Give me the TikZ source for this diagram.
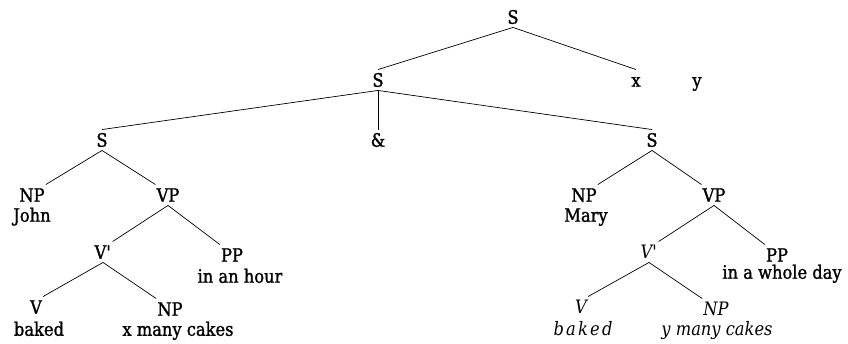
\documentclass[tikz,border=0pt]{standalone}
\usepackage{fontspec}
\setmainfont{DejaVu Serif}[FakeStretch=0.88, FakeBold=1.3]
\newfontfamily\slimfont{DejaVu Serif}[FakeStretch=0.88]
\usepackage{tikz}
\usetikzlibrary{positioning}

\tikzset{
 lbl/.style={font=\fontsize{18.5}{22}\selectfont, inner xsep=1pt, inner ysep=3.5pt, text height=13.5pt, text depth=0pt},
 ilbl/.style={lbl, font=\fontsize{18.5}{22}\selectfont\slimfont\itshape},
 branch/.style={line width=0.7pt}
}

\begin{document}
\begin{tikzpicture}[x=1pt, y=-1pt]
 \useasboundingbox (0,0) rectangle (848,344);
 \node[lbl] (S0) at (513, 17) {S};
 \node[lbl] (S1) at (378, 80) {S};
 \node[lbl] (X) at (636, 80) {x};
 \node[lbl] (Y) at (697, 80) {y};
 \node[lbl] (SL) at (102, 140) {S};
 \node[lbl] (AND) at (378, 140) {\&};
 \node[lbl] (SR) at (652, 140) {S};
 \node[lbl] (NPL) at (32, 195) {NP};
 \node[lbl] (JOHN) at (32, 215) {John};
 \node[lbl] (VPL) at (168, 195) {VP};
 \node[lbl] (VBL) at (103, 252) {V\textquotesingle};
 \node[lbl] (PPL) at (232, 255) {PP};
 \node[lbl] (HOUR) at (240, 276) {in an hour};
 \node[lbl] (VL) at (36, 307) {V};
 \node[lbl] (BAKEDL) at (39, 329) {baked};
 \node[lbl] (NPXL) at (170, 309) {NP};
 \node[lbl] (XCAKES) at (178, 329) {x many cakes};
 \node[lbl] (NPR) at (584, 195) {NP};
 \node[lbl] (MARY) at (586, 215) {Mary};
 \node[lbl] (VPR) at (714, 195) {VP};
 \node[ilbl] (VBR) at (649, 252) {V\textquotesingle};
 \node[lbl] (PPR) at (777, 255) {PP};
 \node[lbl] (DAY) at (782, 272) {in a whole day};
 \node[ilbl] (VR) at (581, 307) {V};
 \node[ilbl] (BAKEDR) at (583, 329) {\addfontfeature{LetterSpace=12}baked};
 \node[ilbl] (NPYR) at (716, 309) {NP};
 \node[ilbl] (YCAKES) at (717, 329) {y many cakes};
 \draw[branch] (S0.south) -- (S1.north);
 \draw[branch] (S0.south) -- (X.north);
 \draw[branch] (S1.south) -- (SL.north);
 \draw[branch] (S1.south) -- (AND.north);
 \draw[branch] (S1.south) -- (SR.north);
 \draw[branch] (SL.south) -- (NPL.north east);
 \draw[branch] (SL.south) -- (VPL.north west);
 \draw[branch] (VPL.south) -- (VBL.north east);
 \draw[branch] (VPL.south) -- (PPL.north west);
 \draw[branch] (VBL.south) -- (VL.north east);
 \draw[branch] (VBL.south) -- (NPXL.north west);
 \draw[branch] (SR.south) -- (NPR.north east);
 \draw[branch] (SR.south) -- (VPR.north west);
 \draw[branch] (VPR.south) -- (VBR.north east);
 \draw[branch] (VPR.south) -- (PPR.north west);
 \draw[branch] (VBR.south) -- (VR.north east);
 \draw[branch] (VBR.south) -- (NPYR.north west);
\end{tikzpicture}
\end{document}
